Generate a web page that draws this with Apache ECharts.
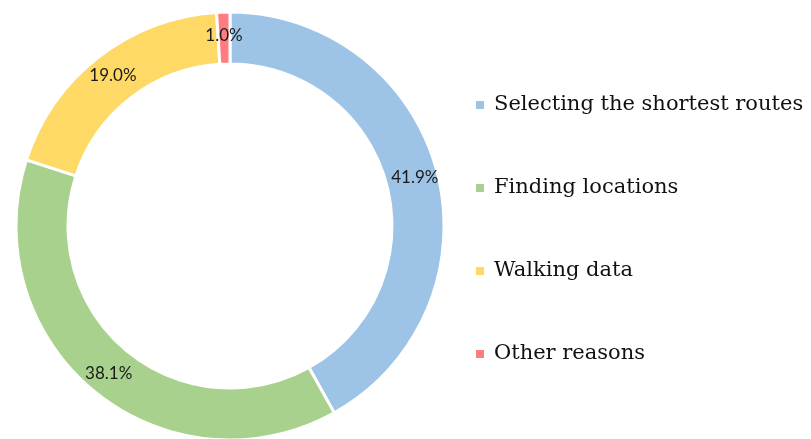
<!DOCTYPE html>
<html>
<head>
<meta charset="utf-8">
<script src="https://cdn.jsdelivr.net/npm/echarts@6/dist/echarts.min.js"></script>
<style>
  html, body { margin: 0; padding: 0; background: #fff; }
  #chart { width: 811px; height: 439px; }
</style>
</head>
<body>
<div id="chart"></div>
<script>
var categories = ["Selecting the shortest routes", "Finding locations", "Walking data", "Other reasons"];
var values = [41.9, 38.1, 19.0, 1.0];
var colors = ["#9DC3E6", "#A9D18E", "#FFD966", "#FF7C80"];

var chart = echarts.init(document.getElementById("chart"));

var pieData = [];
for (var i = 0; i < categories.length; i++) {
    pieData.push({ name: categories[i], value: values[i], itemStyle: { color: colors[i] } });
}

var option = {
    animation: false,
    legend: {
        orient: "vertical",
        left: 474,
        top: 93,
        padding: 0,
        itemWidth: 10,
        itemHeight: 10,
        itemGap: 59,
        icon: "rect",
        data: categories,
        textStyle: {
            fontFamily: "DejaVu Serif",
            fontSize: 21,
            color: "#111",
            lineHeight: 24,
            padding: [0, 0, 0, 4]
        }
    },
    series: [
        {
            type: "pie",
            center: [230, 226],
            radius: [162, 214],
            startAngle: 90,
            clockwise: true,
            avoidLabelOverlap: false,
            itemStyle: { borderColor: "#fff", borderWidth: 3 },
            label: {
                show: true,
                position: "inside",
                formatter: function (p) { return p.value.toFixed(1) + "%"; },
                fontFamily: "Lato",
                fontSize: 17,
                color: "#1a1a1a"
            },
            labelLine: { show: false },
            emphasis: { disabled: true },
            data: pieData
        }
    ]
};

chart.setOption(option);
</script>
</body>
</html>
